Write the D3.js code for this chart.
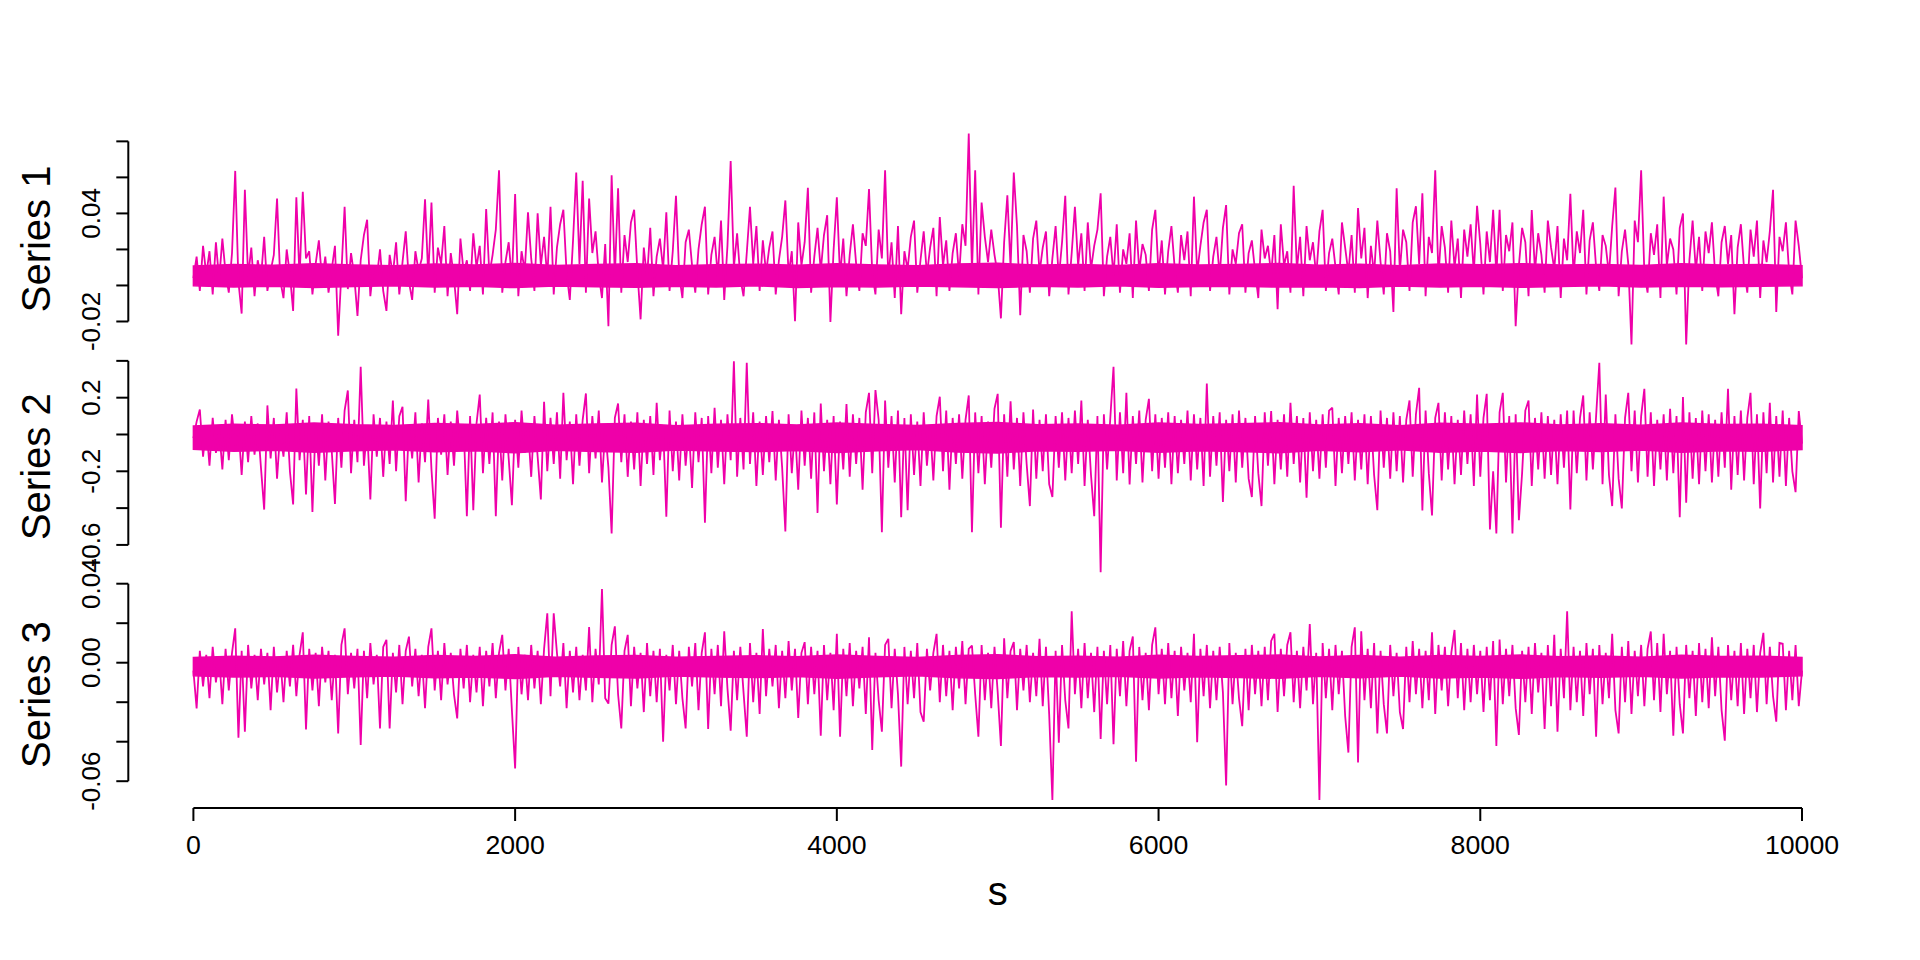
<!DOCTYPE html>
<html>
<head>
<meta charset="utf-8">
<script src="https://cdn.jsdelivr.net/npm/d3@7"></script>
<style>
  html, body { margin: 0; padding: 0; background: #ffffff; }
  svg text { font-family: "Liberation Sans", Arial, Helvetica, sans-serif; fill: #000; }
</style>
</head>
<body>
<svg id="chart" width="1920" height="960"></svg>
<script>
// ---------------- DATA ----------------
const seriesNames = ["Series 1", "Series 2", "Series 3"];
const xLabel = "s";
const sTicks = [0, 2000, 4000, 6000, 8000, 10000];
const sStart = 0, sEnd = 10000;
const sampleStep = 20;  // series every 20 steps
const coreStep = 250;   // dense core band of each series, every 250 steps

const s1Vals = [
0.004,0.016,-0.003,0.022,0.006,0.019,-0.005,0.024,0.003,0.026,
0.007,-0.004,0.018,0.0636,0.002,-0.0156,0.0531,0.005,0.021,-0.006,
0.014,0.004,0.027,-0.003,0.008,0.017,0.0483,0.003,-0.007,0.020,
0.006,-0.0141,0.0489,0.004,0.052,0.015,0.019,-0.005,0.012,0.025,
0.003,0.016,-0.004,0.009,0.022,-0.0279,0.007,0.0437,-0.002,0.018,
0.005,-0.0169,0.014,0.028,0.0365,-0.006,0.011,0.004,0.020,-0.003,
-0.0141,0.017,0.006,0.024,-0.005,0.013,0.030,0.002,-0.008,0.019,
0.008,0.015,0.0479,0.005,0.046,-0.004,0.021,0.012,0.033,-0.006,
0.018,0.004,-0.016,0.026,0.007,0.014,-0.003,0.029,0.010,0.022,
-0.005,0.0424,0.006,0.017,0.031,0.064,-0.004,0.013,0.024,0.003,
0.0507,-0.006,0.019,0.008,0.0406,0.015,-0.003,0.040,0.011,0.027,
0.004,0.0437,-0.005,0.021,0.034,0.042,0.007,-0.008,0.025,0.0627,
0.012,0.0581,-0.004,0.0483,0.018,0.030,0.006,-0.007,0.023,-0.0226,
0.0612,0.005,0.054,-0.004,0.028,0.013,0.035,0.042,0.008,-0.0188,
0.021,0.004,0.032,-0.006,0.016,0.026,0.009,0.0406,-0.003,0.019,
0.0498,0.006,-0.007,0.024,0.031,0.011,-0.004,0.020,0.034,0.0437,
-0.005,0.017,0.027,0.005,0.036,-0.008,0.022,0.0691,0.010,0.029,
0.004,-0.006,0.018,0.0437,0.012,0.033,-0.003,0.025,0.007,0.021,
0.030,-0.005,0.014,0.027,0.0472,0.006,0.019,-0.0199,0.035,0.011,
0.024,0.0542,-0.004,0.016,0.032,0.008,0.028,0.039,-0.0203,0.020,
0.0489,0.005,0.026,-0.006,0.017,0.034,0.012,-0.003,0.029,0.022,
0.0535,0.007,-0.005,0.031,0.015,0.064,0.004,0.024,-0.007,0.033,
-0.016,0.019,0.009,0.027,0.036,-0.004,0.014,0.030,0.006,0.021,
0.032,-0.006,0.038,0.011,0.025,-0.003,0.018,0.029,0.005,0.034,
0.022,0.0844,0.008,0.064,-0.005,0.046,0.027,0.013,0.031,0.017,
0.006,-0.0183,0.024,0.050,0.010,0.0627,0.033,-0.0165,0.028,0.019,
-0.004,0.026,0.036,0.007,0.021,0.030,-0.006,0.015,0.033,0.004,
0.024,0.0498,-0.005,0.018,0.0437,0.011,0.029,-0.003,0.035,0.009,
0.022,0.031,0.0512,-0.006,0.016,0.027,0.005,0.034,-0.004,0.020,
0.012,0.029,-0.007,0.036,0.008,0.023,0.017,-0.003,0.031,0.042,
0.006,0.025,-0.005,0.019,0.033,0.010,-0.004,0.028,0.014,0.030,
-0.006,0.0493,0.007,0.022,0.035,0.042,-0.003,0.016,0.027,0.005,
0.032,0.0446,-0.005,0.020,0.012,0.029,0.034,-0.004,0.018,0.025,
0.008,-0.007,0.031,0.015,0.022,0.006,0.028,-0.0132,0.034,0.011,
0.019,-0.004,0.0553,0.009,0.027,-0.006,0.033,0.014,0.024,0.005,
0.030,0.042,-0.003,0.018,0.026,0.010,-0.005,0.035,0.021,0.007,
0.028,-0.004,0.043,0.015,0.032,-0.007,0.022,0.006,0.036,0.013,
-0.005,0.029,0.019,-0.0147,0.054,0.008,0.031,0.024,-0.003,0.035,
0.044,0.012,0.0512,-0.006,0.027,0.018,0.064,0.005,0.033,0.021,
-0.004,0.036,0.010,0.026,-0.007,0.031,0.016,0.034,0.007,0.0442,
0.023,-0.005,0.030,0.013,0.042,0.006,0.042,-0.003,0.028,0.019,
0.035,-0.0226,0.011,0.032,0.024,-0.006,0.0419,0.008,0.029,0.017,
-0.004,0.036,0.021,0.009,0.033,-0.007,0.026,0.014,0.0509,0.005,
0.030,0.018,0.042,-0.005,0.025,0.035,0.010,-0.003,0.028,0.022,
0.006,0.033,0.0544,-0.006,0.019,0.031,0.012,-0.0327,0.036,0.024,
0.064,0.007,-0.004,0.029,0.017,0.034,-0.007,0.0493,0.011,0.026,
0.020,-0.005,0.032,0.040,-0.0327,0.014,0.036,0.008,0.027,-0.003,
0.030,0.018,0.035,0.006,-0.006,0.024,0.033,0.012,0.028,-0.016,
0.021,0.034,0.009,-0.004,0.031,0.016,0.036,-0.007,0.025,0.013,
0.030,0.0531,-0.0147,0.027,0.019,0.035,0.007,-0.005,0.036,0.022,
0.004];

const s2Vals = [
-0.02,0.07,0.136,-0.12,0.05,-0.17,0.09,-0.10,0.03,-0.19,
0.08,-0.14,0.11,-0.06,0.04,-0.22,0.07,-0.15,0.10,-0.11,
0.06,-0.18,-0.408,0.158,-0.13,0.09,-0.24,0.02,-0.12,0.12,
-0.20,-0.380,0.25,-0.14,0.08,-0.326,0.10,-0.421,0.06,-0.17,
0.11,-0.25,0.07,-0.09,-0.377,0.09,-0.18,0.13,0.239,-0.21,
0.08,-0.15,0.368,-0.17,0.04,-0.353,0.11,-0.12,0.09,-0.23,
0.07,-0.16,0.185,-0.20,0.10,0.150,-0.362,0.05,-0.13,0.12,
-0.26,0.06,-0.15,0.190,-0.19,-0.458,0.09,-0.11,0.11,-0.22,
0.07,-0.17,0.13,-0.08,0.05,-0.444,0.10,-0.411,0.06,0.217,
-0.21,0.09,-0.16,0.12,-0.444,0.07,-0.25,0.11,-0.13,-0.384,
0.08,-0.18,0.13,-0.10,0.04,-0.23,0.10,-0.12,-0.353,0.178,
-0.20,0.09,-0.16,0.12,-0.24,0.226,-0.14,0.07,-0.27,0.11,
-0.17,0.08,0.223,-0.21,0.10,-0.13,0.13,-0.26,0.03,-0.18,
-0.538,0.09,0.168,-0.15,0.11,-0.23,0.07,-0.19,0.12,-0.28,
0.08,-0.16,0.10,-0.22,0.172,-0.14,0.05,-0.447,0.13,-0.20,
0.07,-0.25,0.11,-0.17,0.04,-0.29,0.12,-0.15,0.09,-0.480,
0.10,-0.21,0.145,-0.18,0.08,-0.27,0.11,-0.14,0.398,-0.23,
0.09,-0.19,0.389,-0.16,0.12,-0.28,0.07,-0.22,0.10,-0.15,
0.127,-0.25,0.08,-0.18,-0.527,0.11,-0.21,0.04,-0.30,0.13,
-0.17,0.09,-0.24,0.12,-0.426,0.168,-0.20,0.08,-0.27,0.10,
-0.380,0.07,-0.19,0.166,-0.23,0.11,-0.16,0.09,-0.30,0.12,
0.226,-0.21,0.241,0.08,-0.531,0.185,-0.18,0.10,-0.26,0.13,
-0.449,0.09,-0.411,0.11,-0.22,0.07,-0.28,0.12,-0.17,0.05,
-0.25,0.10,0.205,-0.20,0.13,-0.30,0.09,-0.16,0.11,-0.24,
0.08,0.212,-0.531,0.12,-0.21,0.10,-0.27,0.07,-0.18,0.14,
0.221,-0.507,0.11,-0.23,0.181,-0.19,0.09,-0.28,0.12,-0.16,
-0.389,0.136,-0.24,0.08,-0.20,0.11,-0.27,-0.340,0.10,-0.18,
0.12,-0.25,0.09,-0.21,0.13,-0.16,0.185,-0.28,0.08,-0.22,
-0.444,0.10,-0.748,0.11,-0.19,0.09,0.368,-0.25,0.12,-0.21,
0.226,-0.272,0.10,-0.16,0.13,-0.26,0.08,0.194,-0.20,0.11,
-0.24,0.09,-0.18,0.12,-0.27,0.10,-0.21,0.08,-0.16,0.13,
-0.25,0.11,-0.19,0.09,-0.28,0.277,-0.23,0.10,-0.17,0.12,
-0.366,0.08,-0.20,0.11,-0.26,0.13,-0.18,0.09,-0.24,-0.340,
0.10,-0.21,-0.389,0.12,-0.17,0.127,-0.27,0.08,-0.19,0.11,
-0.23,0.172,-0.16,0.10,-0.26,0.09,-0.344,0.12,-0.20,0.08,
-0.24,0.11,-0.18,0.13,0.145,-0.28,0.09,-0.21,0.10,-0.16,
0.12,-0.25,0.08,-0.19,0.11,-0.27,0.10,-0.22,-0.411,0.13,
-0.18,0.09,-0.24,0.12,-0.20,0.10,-0.26,0.08,0.185,-0.23,
0.11,0.254,-0.413,0.13,-0.21,-0.440,0.09,0.172,-0.25,0.12,
-0.19,0.10,-0.27,0.08,-0.22,0.13,-0.16,0.11,-0.28,0.217,
-0.23,0.09,0.221,-0.516,-0.20,-0.538,0.12,0.226,-0.26,0.10,
-0.538,0.11,-0.466,-0.21,0.13,0.185,-0.28,0.09,-0.19,0.12,
-0.24,0.10,-0.22,0.08,-0.27,0.11,-0.18,0.130,-0.408,0.13,
-0.21,0.09,0.212,-0.25,0.12,-0.19,0.10,0.389,-0.27,0.217,
-0.22,-0.389,0.11,-0.24,-0.402,0.09,0.226,-0.20,0.13,-0.26,
0.10,0.248,-0.23,0.12,-0.28,0.08,-0.19,0.11,-0.25,0.14,
-0.21,0.10,-0.449,0.203,-0.371,0.12,-0.24,0.09,-0.27,0.13,
-0.20,0.11,-0.26,0.08,-0.23,0.12,-0.18,0.248,-0.30,0.10,
-0.22,0.13,-0.25,0.09,0.226,-0.27,0.11,-0.402,0.12,-0.21,
0.172,-0.26,0.10,-0.23,0.13,-0.28,0.09,-0.20,-0.313,0.127,
-0.05];

const s3Vals = [
-0.004,-0.0232,0.006,-0.012,0.004,-0.018,0.008,-0.010,0.003,-0.021,
0.007,-0.014,0.005,0.0174,-0.0380,0.006,-0.0350,0.009,-0.013,0.004,
-0.019,0.007,-0.011,0.005,-0.024,0.008,-0.015,0.003,-0.020,0.006,
-0.012,0.009,-0.017,0.004,0.0154,-0.0338,0.007,-0.014,0.005,-0.022,
0.008,-0.010,0.006,-0.019,0.004,-0.0358,0.009,0.0174,-0.016,0.005,
-0.013,0.007,-0.0417,0.006,-0.018,0.010,-0.011,0.004,-0.0333,0.008,
0.0116,-0.0333,0.005,-0.015,0.009,-0.021,0.006,0.0132,-0.012,0.007,
-0.017,0.004,-0.023,0.008,0.0174,-0.014,0.006,-0.019,0.010,-0.011,
0.005,-0.016,-0.0282,0.007,-0.013,0.009,-0.020,0.004,-0.015,0.008,
-0.022,0.006,-0.012,0.010,-0.018,0.005,0.0141,-0.014,0.007,-0.024,
-0.0536,0.008,-0.016,0.004,-0.019,0.009,-0.013,0.006,-0.021,0.007,
0.0250,-0.017,0.0250,0.005,-0.012,0.010,-0.023,0.006,-0.015,0.008,
-0.019,0.004,-0.014,0.0180,-0.020,0.007,-0.011,0.0373,-0.018,-0.0207,
0.009,0.0184,-0.016,-0.0333,0.006,0.0141,-0.022,0.008,-0.013,0.005,
-0.025,0.010,-0.017,0.006,-0.020,0.007,-0.0400,0.004,-0.014,0.009,
-0.021,0.006,-0.018,-0.0333,0.008,-0.012,0.010,-0.024,0.005,0.0154,
-0.0336,0.007,-0.016,0.009,-0.022,0.0159,-0.013,-0.0344,0.006,-0.019,
0.008,-0.015,-0.0375,0.010,-0.020,0.005,-0.026,0.0171,-0.017,0.007,
-0.012,0.009,-0.023,0.006,-0.018,0.011,-0.014,0.007,-0.028,0.005,
0.0104,-0.021,0.008,-0.016,0.006,-0.0370,0.009,-0.019,0.005,-0.024,
0.0146,-0.0375,0.007,-0.017,0.010,-0.022,0.006,-0.013,0.008,-0.026,
0.0129,-0.0442,0.005,-0.019,-0.0349,0.009,0.0121,-0.023,0.007,-0.016,
-0.0526,0.008,-0.021,0.006,-0.018,0.010,-0.025,-0.0299,0.007,-0.014,
0.005,0.0146,-0.020,0.009,-0.017,0.006,-0.024,0.008,-0.013,0.011,
-0.021,0.007,0.0087,-0.016,-0.0375,0.009,-0.019,0.005,-0.023,0.008,
-0.015,-0.0422,0.0124,-0.018,0.006,0.0104,-0.024,0.007,-0.014,0.009,
-0.020,0.005,-0.017,0.0121,-0.022,0.008,-0.026,-0.0695,0.006,-0.0405,
0.009,-0.019,-0.0333,0.0260,-0.016,0.007,-0.023,0.010,-0.018,0.005,
-0.025,0.008,-0.0386,0.006,-0.021,0.009,-0.0413,0.007,-0.017,0.011,
-0.022,0.006,0.0133,-0.0501,0.008,-0.019,0.005,-0.024,0.009,0.0179,
-0.016,0.007,-0.021,0.010,-0.018,0.006,-0.027,0.008,-0.014,0.005,
-0.020,0.0146,-0.0403,0.007,-0.017,0.009,-0.023,0.006,-0.019,0.008,
-0.015,-0.0622,0.010,-0.021,0.005,-0.018,-0.0321,0.007,-0.024,0.009,
-0.016,0.006,-0.022,0.008,-0.019,0.011,0.0146,-0.025,0.007,-0.017,
0.009,0.0154,-0.020,0.006,-0.023,0.008,-0.014,0.0196,-0.021,0.005,
-0.0695,0.010,-0.018,0.007,-0.024,0.009,-0.016,0.006,-0.027,-0.0455,
0.008,0.0179,-0.0505,0.0159,-0.019,0.007,-0.023,0.010,-0.0358,0.006,
-0.021,-0.0358,0.009,-0.017,0.005,-0.025,-0.0336,0.008,-0.020,0.011,
-0.016,0.007,-0.023,0.006,-0.019,0.0154,-0.026,0.009,-0.014,0.008,
-0.022,0.005,0.0166,-0.018,0.010,-0.024,0.007,-0.020,0.009,-0.016,
0.006,-0.025,0.008,-0.019,0.011,-0.0422,0.0117,-0.021,0.007,-0.017,
0.009,-0.023,-0.0366,0.006,-0.020,0.008,-0.026,0.010,-0.015,0.005,
-0.0336,0.009,-0.022,0.0141,-0.0349,0.007,-0.018,0.0260,-0.024,0.008,
-0.020,0.006,-0.027,0.010,-0.016,0.007,-0.0375,0.009,-0.021,0.005,
-0.018,0.0146,-0.024,-0.0358,0.008,-0.020,0.011,-0.026,0.006,-0.017,
0.009,-0.022,0.007,0.0158,-0.019,0.010,-0.025,0.0146,-0.016,0.006,
-0.0370,0.008,-0.021,-0.0358,0.009,-0.018,0.006,-0.027,0.010,-0.020,
0.007,-0.023,0.0129,-0.017,0.008,-0.024,-0.0395,0.009,-0.019,0.006,
-0.022,0.010,-0.026,0.007,-0.018,0.009,-0.025,0.005,0.0151,-0.021,
0.008,-0.017,-0.0299,0.010,0.0096,-0.024,0.006,-0.019,0.009,-0.022,
-0.004];

// dense core band of each series (lower / upper edge)
const s1CoreLo = [-0.0002,-0.0008,-0.0004,-0.0011,-0.0006,-0.0001,-0.0009,-0.0005,-0.0012,-0.0003,-0.0007,-0.0010,-0.0004,-0.0008,-0.0002,-0.0011,-0.0006,-0.0009,-0.0003,-0.0007,-0.0012,-0.0005,-0.0008,-0.0002,-0.0010,-0.0006,-0.0004,-0.0009,-0.0007,-0.0011,-0.0003,-0.0008,-0.0005,-0.0010,-0.0006,-0.0002,-0.0009,-0.0004,-0.0007,-0.0005,-0.0001];
const s1CoreHi = [0.0108,0.0116,0.0112,0.0121,0.0114,0.0110,0.0119,0.0113,0.0122,0.0111,0.0117,0.0120,0.0109,0.0115,0.0118,0.0112,0.0121,0.0114,0.0110,0.0119,0.0123,0.0113,0.0116,0.0111,0.0120,0.0114,0.0117,0.0122,0.0112,0.0118,0.0110,0.0119,0.0115,0.0121,0.0113,0.0117,0.0111,0.0120,0.0114,0.0116,0.0109];
const s2CoreLo = [-0.080,-0.091,-0.086,-0.097,-0.088,-0.083,-0.094,-0.089,-0.099,-0.085,-0.092,-0.096,-0.084,-0.090,-0.093,-0.087,-0.098,-0.089,-0.082,-0.095,-0.100,-0.088,-0.091,-0.085,-0.097,-0.089,-0.093,-0.099,-0.086,-0.094,-0.083,-0.096,-0.090,-0.098,-0.087,-0.092,-0.084,-0.097,-0.089,-0.091,-0.082];
const s2CoreHi = [0.046,0.056,0.051,0.062,0.053,0.049,0.060,0.054,0.064,0.050,0.057,0.061,0.048,0.055,0.059,0.052,0.063,0.054,0.049,0.060,0.065,0.053,0.057,0.050,0.062,0.054,0.058,0.064,0.051,0.059,0.048,0.061,0.055,0.063,0.052,0.058,0.050,0.062,0.054,0.056,0.047];
const s3CoreLo = [-0.0066,-0.0073,-0.0069,-0.0078,-0.0071,-0.0067,-0.0076,-0.0072,-0.0080,-0.0068,-0.0074,-0.0077,-0.0067,-0.0072,-0.0075,-0.0070,-0.0079,-0.0071,-0.0066,-0.0076,-0.0080,-0.0070,-0.0073,-0.0068,-0.0078,-0.0071,-0.0075,-0.0079,-0.0069,-0.0076,-0.0067,-0.0077,-0.0072,-0.0079,-0.0070,-0.0074,-0.0068,-0.0078,-0.0071,-0.0073,-0.0066];
const s3CoreHi = [0.0026,0.0033,0.0029,0.0038,0.0031,0.0027,0.0036,0.0032,0.0040,0.0028,0.0034,0.0037,0.0027,0.0032,0.0035,0.0030,0.0039,0.0031,0.0026,0.0036,0.0040,0.0030,0.0033,0.0028,0.0038,0.0031,0.0035,0.0039,0.0029,0.0036,0.0027,0.0037,0.0032,0.0039,0.0030,0.0034,0.0028,0.0038,0.0031,0.0033,0.0026];

// Y axis ticks and the labels that are printed
const s1Ticks = [-0.02, 0.00, 0.02, 0.04, 0.06, 0.08];
const s1TickLabels = ["-0.02", "", "", "0.04", "", ""];
const s2Ticks = [-0.6, -0.4, -0.2, 0.0, 0.2, 0.4];
const s2TickLabels = ["-0.6", "", "-0.2", "", "0.2", ""];
const s3Ticks = [-0.06, -0.04, -0.02, 0.00, 0.02, 0.04];
const s3TickLabels = ["-0.06", "", "", "0.00", "", "0.04"];

// ---------------- DRAW ----------------
const LINE = "#EF00A9";
const svg = d3.select("#chart");
svg.append("rect").attr("width", 1920).attr("height", 960).attr("fill", "#fff");

const plotTop = 125, panelH = 227.8, axisX = 128.3;
const x = d3.scaleLinear().domain([sStart, sEnd]).range([193.4, 1802]);

const panels = [
  { name: seriesNames[0], vals: s1Vals, cLo: s1CoreLo, cHi: s1CoreHi, ticks: s1Ticks, labels: s1TickLabels },
  { name: seriesNames[1], vals: s2Vals, cLo: s2CoreLo, cHi: s2CoreHi, ticks: s2Ticks, labels: s2TickLabels },
  { name: seriesNames[2], vals: s3Vals, cLo: s3CoreLo, cHi: s3CoreHi, ticks: s3Ticks, labels: s3TickLabels }
];

panels.forEach((p, k) => {
  const top = plotTop + k * panelH, bottom = top + panelH;
  const [mn, mx] = d3.extent(p.vals), pad = (mx - mn) * 0.04;
  const y = d3.scaleLinear().domain([mn - pad, mx + pad]).range([bottom, top]);
  const g = svg.append("g");

  // dense core band of the series
  const core = p.cLo.map((v, i) => ({ s: sStart + i * coreStep, lo: v, hi: p.cHi[i] }));
  g.append("path")
    .datum(core)
    .attr("fill", LINE)
    .attr("stroke", LINE)
    .attr("stroke-width", 1.5)
    .attr("d", d3.area().x(d => x(d.s)).y0(d => y(d.lo)).y1(d => y(d.hi)));

  // the series line
  const pts = p.vals.map((v, i) => ({ s: sStart + i * sampleStep, v: v }));
  g.append("path")
    .datum(pts)
    .attr("fill", "none")
    .attr("stroke", LINE)
    .attr("stroke-width", 1.8)
    .attr("stroke-linejoin", "miter")
    .attr("stroke-miterlimit", 2)
    .attr("d", d3.line().x(d => x(d.s)).y(d => y(d.v)));

  // y axis
  const ax = svg.append("g");
  ax.append("line")
    .attr("x1", axisX).attr("x2", axisX)
    .attr("y1", y(p.ticks[0])).attr("y2", y(p.ticks[p.ticks.length - 1]))
    .attr("stroke", "#000").attr("stroke-width", 2);
  p.ticks.forEach((t, i) => {
    ax.append("line")
      .attr("x1", axisX - 12).attr("x2", axisX)
      .attr("y1", y(t)).attr("y2", y(t))
      .attr("stroke", "#000").attr("stroke-width", 2);
    if (p.labels[i]) {
      ax.append("text")
        .attr("transform", `translate(100,${y(t)}) rotate(-90)`)
        .attr("text-anchor", "middle")
        .attr("font-size", 26)
        .text(p.labels[i]);
    }
  });
  svg.append("text")
    .attr("transform", `translate(50,${(top + bottom) / 2}) rotate(-90)`)
    .attr("text-anchor", "middle")
    .attr("font-size", 40)
    .text(p.name);
});

// x axis
const axisY = 808;
const xa = svg.append("g");
xa.append("line")
  .attr("x1", x(sTicks[0])).attr("x2", x(sTicks[sTicks.length - 1]))
  .attr("y1", axisY).attr("y2", axisY)
  .attr("stroke", "#000").attr("stroke-width", 2);
sTicks.forEach(t => {
  xa.append("line")
    .attr("x1", x(t)).attr("x2", x(t))
    .attr("y1", axisY).attr("y2", axisY + 13)
    .attr("stroke", "#000").attr("stroke-width", 2);
  xa.append("text")
    .attr("x", x(t)).attr("y", 854)
    .attr("text-anchor", "middle")
    .attr("font-size", 26.7)
    .text(String(t));
});
svg.append("text")
  .attr("x", (x(sStart) + x(sEnd)) / 2).attr("y", 905)
  .attr("text-anchor", "middle")
  .attr("font-size", 40)
  .text(xLabel);
</script>
</body>
</html>
